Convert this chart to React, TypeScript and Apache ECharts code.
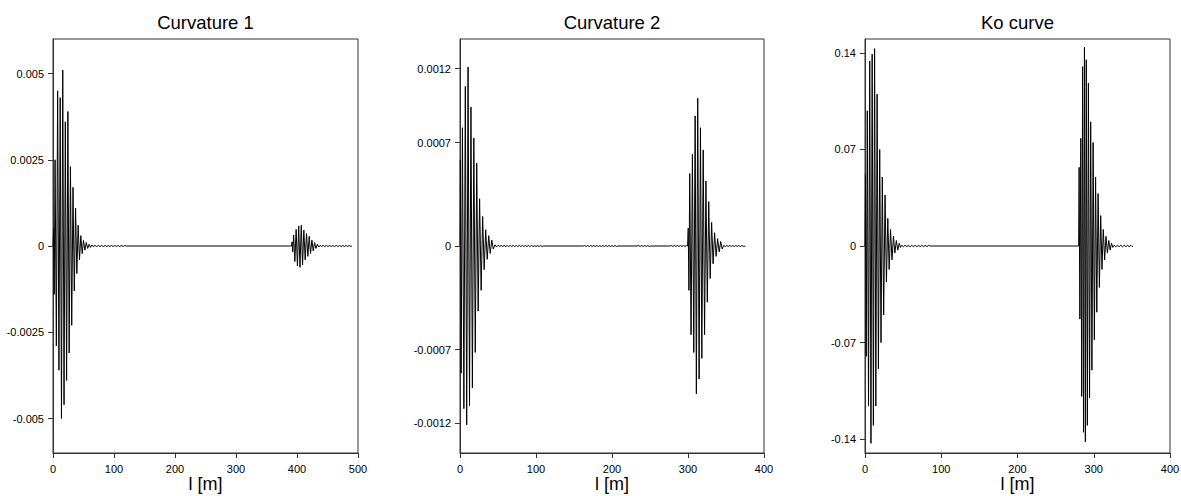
import React, { useEffect, useRef } from "react";
import * as echarts from "echarts";

// ---------- data ----------
const titles = ["Curvature 1", "Curvature 2", "Ko curve"];
const xAxisName = "l [m]";
const xMaxes = [500, 400, 400];
const xInterval = 100;
const yLimits = [0.006, 0.0014, 0.15];
const yTicks1 = [-0.005, -0.0025, 0, 0.0025, 0.005];
const yTicks2 = [-0.0012, -0.0007, 0, 0.0007, 0.0012];
const yTicks3 = [-0.14, -0.07, 0, 0.07, 0.14];

// Curvature 1
const c1Burst1 = [[0,0],[1.0,0.0005],[2.0,-0.0014],[3.4,0.0025],[5.5,-0.0029],[7.6,0.0045],[9.7,-0.0036],[11.8,0.0043],[13.9,-0.005],[16.0,0.0051],[18.1,-0.0046],[20.2,0.0036],[22.3,-0.0039],[24.4,0.0039],[26.5,-0.0031],[28.6,0.0023],[30.7,-0.0023],[32.8,0.0017],[34.9,-0.0013],[37.0,0.0011],[39.1,-0.0008],[41.2,0.0006],[43.4,-0.0004],[45.6,0.0003],[47.8,-0.00022],[50.0,0.00016],[52.3,-0.00012],[54.6,0.0001],[56.9,-0.00007],[59.2,0.00005],[61.5,-0.00004],[63.8,0.00003],[66.1,-0.00002]];
const c1Ripple1 = [[69,1.5e-5],[71.7,-1.5e-5],[74.4,1.5e-5],[77.1,-1.5e-5],[79.8,1.5e-5],[82.5,-1.5e-5],[85.2,1.5e-5],[87.9,-1.5e-5],[90.6,1.5e-5],[93.3,-1.5e-5],[96,1.5e-5],[98.7,-1.5e-5],[101.4,1.5e-5],[104.1,-1.5e-5],[106.8,1.5e-5],[109.5,-1.5e-5],[112.2,1.5e-5],[114.9,-1.5e-5],[117.6,1.5e-5],[120.3,0]];
const c1Burst2 = [[391,0],[392,0.00012],[393,-0.00017],[394.5,0.00032],[396.5,-0.00045],[398.6,0.00048],[400.7,-0.00058],[402.8,0.00058],[404.9,-0.00062],[407.0,0.0006],[409.1,-0.00055],[411.2,0.00046],[413.4,-0.0004],[415.6,0.00036],[417.8,-0.0003],[420.0,0.00028],[422.2,-0.00022],[424.4,0.00017],[426.6,-0.00014],[428.8,0.0001],[431.0,-0.00007],[433.3,0.00005],[435.6,-0.00003],[437.9,0.00002]];
const c1Ripple2 = [[440,-1.5e-5],[442.7,1.5e-5],[445.4,-1.5e-5],[448.1,1.5e-5],[450.8,-1.5e-5],[453.5,1.5e-5],[456.2,-1.5e-5],[458.9,1.5e-5],[461.6,-1.5e-5],[464.3,1.5e-5],[467,-1.5e-5],[469.7,1.5e-5],[472.4,-1.5e-5],[475.1,1.5e-5],[477.8,-1.5e-5],[480.5,1.5e-5],[483.2,-1.5e-5],[485.9,1.5e-5],[488.6,-1.5e-5],[490,0]];

// Curvature 2
const c2Burst1 = [[0,0],[0.5,0.00058],[1.5,-0.00086],[3.2,0.0008],[5.1,-0.0011],[7.0,0.00108],[8.8,-0.00121],[10.6,0.00121],[12.5,-0.00108],[14.4,0.00094],[16.3,-0.00096],[18.2,0.00073],[20.1,-0.00072],[22.0,0.00056],[23.9,-0.00044],[25.8,0.00032],[27.8,-0.0003],[29.8,0.0002],[31.8,-0.00016],[33.8,0.00011],[35.8,-0.00009],[37.8,0.00007],[39.8,-0.00005],[41.8,0.00004],[43.8,-0.00002]];
const c2Ripple1 = [[46,8e-6],[48,-6e-6],[50,5e-6],[52,-4e-6],[54,4e-6],[56,-4e-6],[58,4e-6],[60,-4e-6],[62,4e-6],[64,-4e-6],[66,4e-6],[68,-4e-6],[70,4e-6],[72,-4e-6],[74,4e-6],[76,-4e-6],[78,4e-6],[80,-4e-6],[82,4e-6],[84,-4e-6],[86,4e-6],[88,-4e-6],[90,4e-6],[92,-4e-6],[94,4e-6],[96,-4e-6],[98,4e-6],[100,-4e-6],[102,4e-6],[104,-4e-6],[106,4e-6],[108,-4e-6],[110,0]];
const c2Ripple2 = [[162,0],[164,3e-6],[166,-3e-6],[168,3e-6],[170,-3e-6],[172,3e-6],[174,-3e-6],[176,3e-6],[178,-3e-6],[180,3e-6],[182,-3e-6],[184,3e-6],[186,-3e-6],[188,3e-6],[190,-3e-6],[192,3e-6],[194,-3e-6],[196,3e-6],[198,-3e-6],[200,3e-6],[202,-3e-6],[204,3e-6],[206,-3e-6],[208,0]];
const c2Ripple3 = [[233,0],[235,3e-6],[237,-3e-6],[239,3e-6],[241,-3e-6],[243,3e-6],[245,-3e-6],[247,3e-6],[249,-3e-6],[251,0]];
const c2Ripple4 = [[276,0],[278,3e-6],[280,-3e-6],[282,3e-6],[284,-3e-6],[286,3e-6],[288,-3e-6],[290,3e-6],[292,-3e-6],[294,3e-6],[296,-3e-6],[298,3e-6]];
const c2Burst2 = [[299.5,0],[300.3,0.00012],[301.2,-0.0003],[302.3,0.00049],[304.0,-0.0006],[305.8,0.00062],[307.6,-0.00072],[309.4,0.00088],[311.0,-0.001],[312.8,0.001],[314.6,-0.0009],[316.4,0.0008],[318.2,-0.00076],[320.0,0.00065],[321.8,-0.0006],[323.6,0.00044],[325.4,-0.00038],[327.3,0.0003],[329.2,-0.00022],[331.1,0.00016],[333.0,-0.00012],[335.0,0.00009],[337.0,-0.00007],[339.0,0.00005],[341.0,-0.00004],[343.0,0.00003],[345.0,-0.00002]];
const c2Ripple5 = [[347,4e-6],[349,-4e-6],[351,4e-6],[353,-4e-6],[355,4e-6],[357,-4e-6],[359,4e-6],[361,-4e-6],[363,4e-6],[365,-4e-6],[367,4e-6],[369,-4e-6],[371,4e-6],[373,-4e-6],[375.5,0]];

// Ko curve
const c3Burst1 = [[0,0],[0.6,0.052],[1.6,-0.08],[3.0,0.098],[4.6,-0.116],[6.2,0.134],[7.8,-0.143],[9.4,0.139],[11.0,-0.13],[12.6,0.143],[14.2,-0.116],[15.9,0.11],[17.6,-0.089],[19.3,0.07],[21.0,-0.07],[22.7,0.05],[24.5,-0.05],[26.3,0.037],[28.1,-0.026],[29.9,0.02],[31.7,-0.017],[33.5,0.012],[35.4,-0.01],[37.3,0.007],[39.2,-0.005],[41.1,0.004],[43.0,-0.003],[44.9,0.002],[46.5,-0.001]];
const c3Ripple1 = [[48.2,5e-4],[50.4,-5e-4],[52.6,5e-4],[54.8,-5e-4],[57,5e-4],[59.2,-5e-4],[61.4,5e-4],[63.6,-5e-4],[65.8,5e-4],[68,-5e-4],[70.2,5e-4],[72.4,-5e-4],[74.6,5e-4],[76.8,-5e-4],[79,5e-4],[81.2,-5e-4],[83.4,5e-4],[85.5,0]];
const c3Burst2 = [[280.2,0],[280.8,0.057],[281.8,-0.053],[283.0,0.078],[284.2,-0.109],[285.4,0.13],[286.6,-0.135],[287.8,0.144],[289.0,-0.142],[290.2,0.135],[291.6,-0.13],[293.0,0.118],[294.5,-0.11],[296.0,0.09],[297.6,-0.09],[299.2,0.075],[300.8,-0.068],[302.4,0.05],[304.0,-0.048],[305.7,0.038],[307.4,-0.03],[309.1,0.022],[310.8,-0.017],[312.5,0.012],[314.3,-0.01],[316.1,0.007],[317.9,-0.005],[319.7,0.004],[321.5,-0.003],[323.3,0.002],[325.0,-0.001]];
const c3Ripple2 = [[326.7,5e-4],[328.9,-5e-4],[331.1,5e-4],[333.3,-5e-4],[335.5,5e-4],[337.7,-5e-4],[339.9,5e-4],[342.1,-5e-4],[344.3,5e-4],[346.5,-5e-4],[348.7,5e-4],[350.5,-5e-4],[351.5,0]];

// ---------- layout / style ----------
const FONT = "'Liberation Sans', Arial, Helvetica, sans-serif";
const gridLefts = [53, 460, 865];
const gridWidths = [305, 304, 305];
const gridTop = 39;
const gridHeight = 414;
const AXIS_COLOR = "#333";

export default function App() {
  const ref = useRef<HTMLDivElement>(null);

  useEffect(() => {
    if (!ref.current) return;
    const chart = echarts.init(ref.current, null, { renderer: "svg" });

    const seriesData = [
      [...c1Burst1, ...c1Ripple1, ...c1Burst2, ...c1Ripple2],
      [...c2Burst1, ...c2Ripple1, ...c2Ripple2, ...c2Ripple3, ...c2Ripple4, ...c2Burst2, ...c2Ripple5],
      [...c3Burst1, ...c3Ripple1, ...c3Burst2, ...c3Ripple2],
    ];
    const yTicks = [yTicks1, yTicks2, yTicks3];

    const option: any = {
      animation: false,
      backgroundColor: "#fff",
      textStyle: { fontFamily: FONT, color: "#000" },
      grid: gridLefts.map((l, i) => ({
        left: l,
        top: gridTop,
        width: gridWidths[i],
        height: gridHeight,
        show: true,
        borderColor: AXIS_COLOR,
        borderWidth: 1,
        backgroundColor: "transparent",
        containLabel: false,
        outerBoundsMode: "none",
      })),
      graphic: titles.map((t, i) => ({
        type: "text",
        x: gridLefts[i] + gridWidths[i] / 2,
        y: 22,
        style: {
          text: t,
          fontSize: 18.5,
          fontFamily: FONT,
          fill: "#000",
          align: "center",
          verticalAlign: "middle",
        },
      })),
      xAxis: xMaxes.map((mx, i) => ({
        type: "value",
        gridIndex: i,
        min: 0,
        max: mx,
        interval: xInterval,
        name: xAxisName,
        nameLocation: "middle",
        nameGap: 22,
        nameMoveOverlap: false,
        nameTextStyle: { fontSize: 18, color: "#000", fontFamily: FONT },
        axisLine: { show: true, onZero: false, lineStyle: { color: AXIS_COLOR, width: 1 } },
        axisTick: { show: true, length: 5, inside: false, lineStyle: { color: AXIS_COLOR } },
        axisLabel: { fontSize: 11, color: "#000", margin: 10, fontFamily: FONT, showMinLabel: true, showMaxLabel: true },
        splitLine: { show: false },
      })),
      yAxis: yLimits.map((lim, i) => ({
        type: "value",
        gridIndex: i,
        min: -lim,
        max: lim,
        axisLine: { show: true, onZero: false, lineStyle: { color: AXIS_COLOR, width: 1 } },
        axisTick: { show: true, length: 5, inside: false, customValues: yTicks[i], lineStyle: { color: AXIS_COLOR } },
        axisLabel: {
          fontSize: 11,
          color: "#000",
          margin: 9,
          fontFamily: FONT,
          customValues: yTicks[i],
          formatter: (v: number) => String(v),
        },
        splitLine: { show: false },
      })),
      series: seriesData.map((d, i) => ({
        type: "line",
        xAxisIndex: i,
        yAxisIndex: i,
        data: d,
        showSymbol: false,
        symbol: "none",
        smooth: false,
        clip: true,
        lineStyle: { color: "#000", width: 1 },
        emphasis: { disabled: true },
      })),
    };

    chart.setOption(option);
    return () => chart.dispose();
  }, []);

  return (
    <div
      ref={ref}
      style={{ position: "absolute", left: 0, top: 0, width: 1181, height: 496 }}
    />
  );
}
